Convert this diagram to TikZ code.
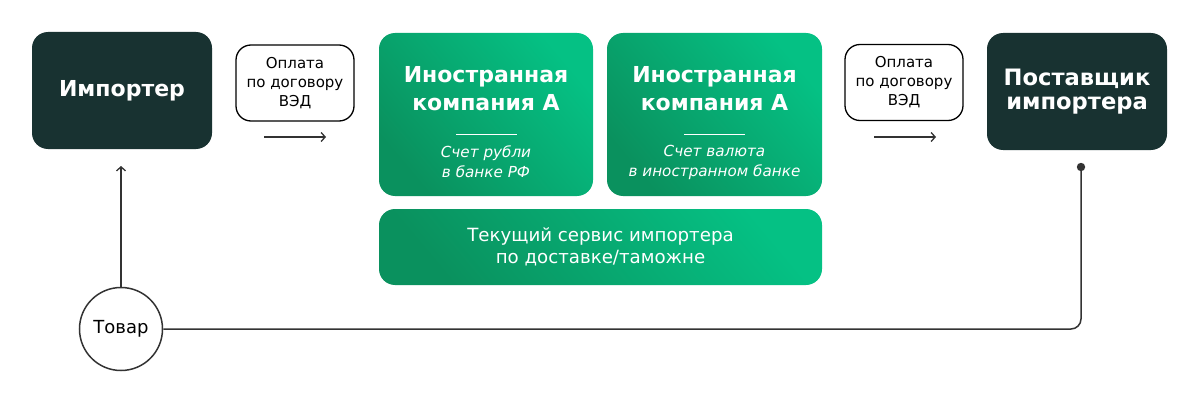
\documentclass[tikz,border=0pt]{standalone}
\usepackage{fontspec}
\setmainfont{DejaVu Sans}
\usetikzlibrary{arrows.meta}
\definecolor{darkbox}{HTML}{183231}
\definecolor{glight}{HTML}{05C184}
\definecolor{gdark}{HTML}{0A915E}
\definecolor{linec}{HTML}{333333}
\tikzset{
  x=1pt,y=1pt,
  darknode/.style={fill=darkbox, rounded corners=16pt, text=white, align=center, inner sep=0pt},
  greennode/.style={top color=glight, bottom color=gdark, shading angle=-50, rounded corners=16pt, inner sep=0pt, draw=none},
  paybox/.style={draw=black, line width=1.3pt, rounded corners=15pt, minimum width=118pt, minimum height=76pt, align=center, inner sep=0pt, font=\fontsize{15}{19}\selectfont},
  conn/.style={draw=linec, line width=1.5pt},
  arr/.style={conn, -{Straight Barb[length=4pt,width=9pt,line width=1.3pt]}},
  titletxt/.style={text=white, align=center, inner sep=0pt, font=\bfseries\fontsize{22}{28}\selectfont},
  subtxt/.style={text=white, align=center, inner sep=0pt, font=\itshape\fontsize{15.2}{20}\selectfont},
  sepline/.style={draw=white, line width=1pt}
}
\begin{document}
\begin{tikzpicture}
\useasboundingbox (0,0) rectangle (1200,-404);
% dark boxes
\node[darknode, minimum width=180pt, minimum height=117pt, font=\bfseries\fontsize{22}{29}\selectfont] (imp) at (122,-90.5) {Импортер};
\node[darknode, minimum width=180pt, minimum height=117pt, font=\bfseries\fontsize{22.6}{24.5}\selectfont] (sup) at (1077,-91.5) {Поставщик\\импортера};
% payment boxes
\node[paybox] (pay1) at (295,-83) {Оплата\\по договору\\ВЭД};
\node[paybox] (pay2) at (904,-82.5) {Оплата\\по договору\\ВЭД};
\coordinate (a1s) at (264,-137);
\coordinate (a1e) at (326,-137);
\coordinate (a2s) at (874,-137);
\coordinate (a2e) at (936,-137);
\draw[arr] (a1s) -- (a1e);
\draw[arr] (a2s) -- (a2e);
% green boxes
\node[greennode, minimum width=214pt, minimum height=163pt] (g1) at (486,-114.5) {};
\node[greennode, minimum width=215pt, minimum height=163pt] (g2) at (714.5,-114.5) {};
\node[greennode, minimum width=443pt, minimum height=76pt, text=white, align=center, font=\fontsize{18.2}{22}\selectfont] (g3) at (600.5,-247) {Текущий сервис импортера\\по доставке/таможне};
\node[titletxt] (t1) at (486,-89) {Иностранная\\компания А};
\node[titletxt] (t2) at (714.5,-89) {Иностранная\\компания А};
\coordinate (s1a) at (456,-134);
\coordinate (s1b) at (517,-134);
\coordinate (s2a) at (684,-134);
\coordinate (s2b) at (745,-134);
\draw[sepline] (s1a) -- (s1b);
\draw[sepline] (s2a) -- (s2b);
\node[subtxt] (u1) at (486,-162) {Счет рубли\\в банке РФ};
\node[subtxt] (u2) at (714.5,-162) {Счет валюта\\в иностранном банке};
% goods
\node[draw=linec, line width=1.5pt, circle, minimum size=83pt, inner sep=0pt, font=\fontsize{18}{20}\selectfont] (tov) at (121,-329) {Товар};
\coordinate (up) at (121,-166);
\coordinate (dot) at (1081,-167);
\draw[arr] (tov.north) -- (up);
\draw[conn, rounded corners=10pt] (tov.east) -| (dot);
\fill[linec] (dot) circle (4.2pt);
\end{tikzpicture}
\end{document}
